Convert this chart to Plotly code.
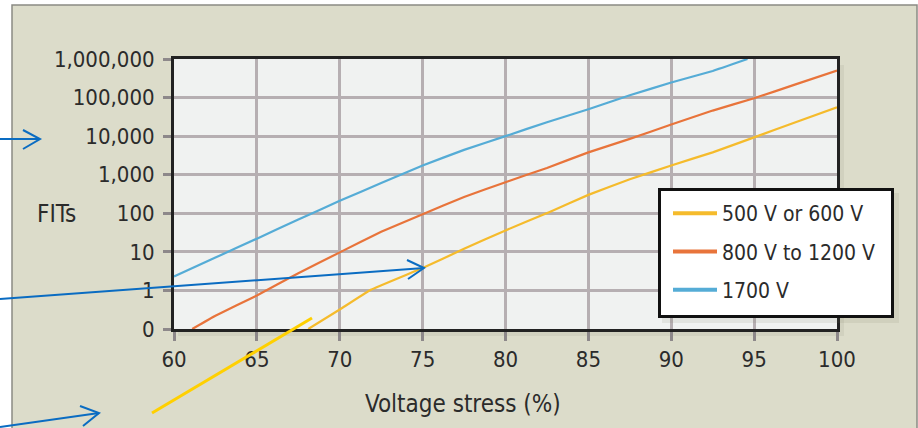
import plotly.graph_objects as go

# ---------------- data ----------------
x_1700 = [60, 62.5, 65, 67.5, 70, 72.5, 75, 77.5, 80, 82.5, 85, 87.5, 90, 92.5, 94.6]
y_1700 = [2.3, 7.1, 22, 69, 210, 610, 1740, 4400, 10000, 23000, 50000, 115000, 245000, 490000, 1000000]

x_800 = [61.1, 62.5, 65, 67.5, 70, 72.5, 75, 77.5, 80, 82.5, 85, 87.5, 90, 92.5, 95, 97.5, 100]
y_800 = [0.1, 0.22, 0.74, 2.8, 9.7, 33, 95, 265, 640, 1500, 3800, 8500, 20000, 46000, 96000, 220000, 500000]

x_500 = [68.1, 70, 71.8, 75, 77.5, 80, 82.7, 85, 87.5, 90, 92.5, 95, 97.5, 100]
y_500 = [0.1, 0.32, 1.0, 3.8, 12, 36, 110, 300, 760, 1740, 3800, 9300, 23000, 56000]

series_names = ["500 V or 600 V", "800 V to 1200 V", "1700 V"]
series_colors = ["#f5bb2c", "#e8743b", "#55acd6"]

y_tickvals = [0.1, 1, 10, 100, 1000, 10000, 100000, 1000000]
y_ticktext = ["0", "1", "10", "100", "1,000", "10,000", "100,000", "1,000,000"]
x_tickvals = [60, 65, 70, 75, 80, 85, 90, 95, 100]

FONT = "DejaVu Sans Condensed, Liberation Sans Narrow, sans-serif"
FS = 22
TXT = "#2b2b2b"

# ---------------- geometry ----------------
W, H = 918, 428
L, R, T, B = 174, 837, 59, 329   # plot-area pixel edges


def px(xp):
    return (xp - L) / (R - L)


def py(yp):
    return (B - yp) / (B - T)


fig = go.Figure()
for i, (xs, ys, name, col) in enumerate(zip([x_500, x_800, x_1700], [y_500, y_800, y_1700],
                                            series_names, series_colors)):
    fig.add_trace(go.Scatter(x=xs, y=ys, mode="lines", name=name, legendgroup="g%d" % i,
                             showlegend=False,
                             line=dict(color=col, width=2.2, shape="spline", smoothing=0.3)))
# legend entries (thicker swatches)
for i, (name, col) in enumerate(zip(series_names, series_colors)):
    fig.add_trace(go.Scatter(x=[None], y=[None], mode="lines", name=name,
                             legendgroup="g%d" % i, showlegend=True,
                             line=dict(color=col, width=4)))

shapes = []
# outer beige panel
shapes.append(dict(type="rect", xref="paper", yref="paper", layer="below",
                   x0=px(12), x1=px(917), y0=py(440), y1=py(5),
                   fillcolor="#dcdcca", line=dict(color="#8a8a84", width=1.5)))
# plot-area shadow
shapes.append(dict(type="rect", xref="paper", yref="paper", layer="below",
                   x0=px(L + 4), x1=px(R + 7), y0=py(B + 7), y1=py(T + 6),
                   fillcolor="rgba(120,120,100,0.10)", line=dict(width=0)))
# plot-area background
shapes.append(dict(type="rect", xref="paper", yref="paper", layer="below",
                   x0=0, x1=1, y0=0, y1=1,
                   fillcolor="#f0f2f1", line=dict(width=0)))
# legend shadow + legend box
shapes.append(dict(type="rect", xref="paper", yref="paper", layer="above",
                   x0=px(662), x1=px(899), y0=py(323), y1=py(193),
                   fillcolor="rgba(120,120,100,0.12)", line=dict(width=0)))
shapes.append(dict(type="rect", xref="paper", yref="paper", layer="above",
                   x0=px(659.5), x1=px(892.5), y0=py(316.5), y1=py(189.5),
                   fillcolor="white", line=dict(color="#111", width=3)))

# stray yellow line below the axis
shapes.append(dict(type="line", xref="paper", yref="paper", layer="above",
                   x0=px(152), y0=py(413), x1=px(312), y1=py(318),
                   line=dict(color="#ffd000", width=3)))

ARROW = "#0a6cc2"


def arrow(x0, y0, x1, y1, a1, a2):
    shapes.append(dict(type="line", xref="paper", yref="paper", layer="above",
                       x0=px(x0), y0=py(y0), x1=px(x1), y1=py(y1),
                       line=dict(color=ARROW, width=2)))
    path = "M {} {} L {} {} L {} {}".format(px(a1[0]), py(a1[1]), px(x1), py(y1),
                                            px(a2[0]), py(a2[1]))
    shapes.append(dict(type="path", xref="paper", yref="paper", layer="above",
                       path=path, line=dict(color=ARROW, width=2)))


arrow(0, 139, 40, 139, (23, 130), (23, 149))
arrow(0, 299, 424, 268, (407, 260), (408, 279))
arrow(0, 427, 99, 413, (80, 406), (83, 426))

annotations = [
    dict(text="FITs", xref="paper", yref="paper", x=px(57), y=py(214),
         showarrow=False, font=dict(family=FONT, size=24, color=TXT),
         xanchor="center", yanchor="middle"),
    dict(text="Voltage stress (%)", xref="paper", yref="paper", x=px(463), y=py(404),
         showarrow=False, font=dict(family=FONT, size=24, color=TXT),
         xanchor="center", yanchor="middle"),
]

fig.update_layout(
    width=W, height=H,
    margin=dict(l=L, r=W - R, t=T, b=H - B, pad=0),
    paper_bgcolor="white",
    plot_bgcolor="rgba(0,0,0,0)",
    font=dict(family=FONT, size=FS, color=TXT),
    shapes=shapes,
    annotations=annotations,
    showlegend=True,
    legend=dict(x=px(668), y=py(193), xanchor="left", yanchor="top",
                bgcolor="rgba(0,0,0,0)", borderwidth=0,
                font=dict(family=FONT, size=21, color=TXT),
                itemwidth=44, tracegroupgap=8, traceorder="grouped"),
)

fig.update_xaxes(range=[60, 100], tickvals=x_tickvals, showgrid=True,
                 gridcolor="#b6afb2", gridwidth=3, zeroline=False,
                 showline=True, linecolor="#222", linewidth=3, mirror=True,
                 ticks="outside", ticklen=9, tickwidth=3, tickcolor="#8d888a",
                 tickfont=dict(family=FONT, size=FS, color=TXT))
fig.update_yaxes(type="log", range=[-1, 6], tickvals=y_tickvals, ticktext=y_ticktext,
                 showgrid=True, gridcolor="#b6afb2", gridwidth=3, zeroline=False,
                 showline=True, linecolor="#222", linewidth=3, mirror=True,
                 ticks="outside", ticklen=8, tickwidth=3, tickcolor="#8d888a",
                 ticklabelstandoff=4,
                 tickfont=dict(family=FONT, size=FS, color=TXT))

fig.write_html("out.html", config={"displayModeBar": False},
               post_script="document.body.style.margin='0';document.body.style.overflow='hidden';")
